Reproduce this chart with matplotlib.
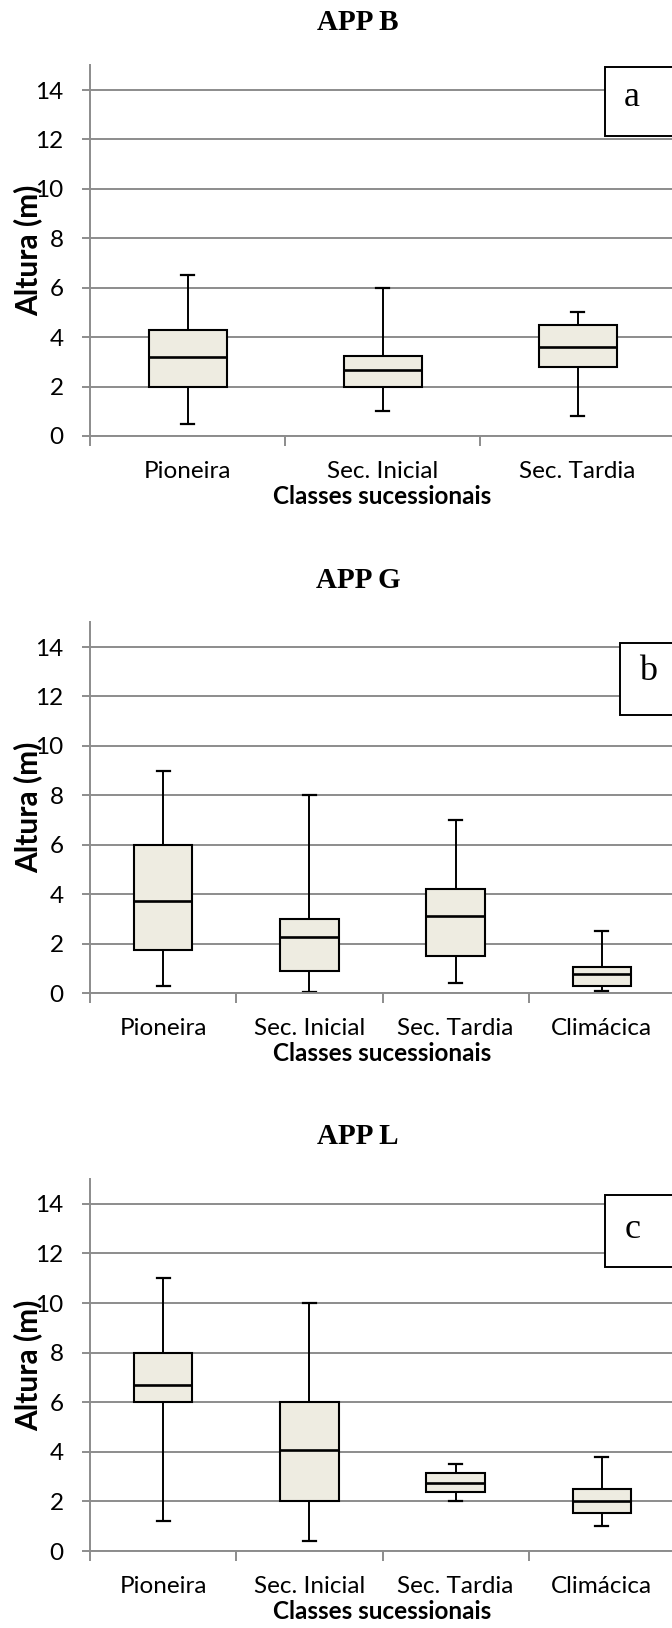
import matplotlib
matplotlib.use("Agg")
import matplotlib.pyplot as plt
from matplotlib.patches import Rectangle

# ---------------- data ----------------
cats_b = ['Pioneira', 'Sec. Inicial', 'Sec. Tardia']
cats_gl = ['Pioneira', 'Sec. Inicial', 'Sec. Tardia', 'Climácica']

b_whislo = [0.5, 1.0, 0.8]
b_q1 = [2.0, 2.0, 2.8]
b_med = [3.2, 2.67, 3.6]
b_q3 = [4.3, 3.25, 4.5]
b_whishi = [6.5, 6.0, 5.0]

g_whislo = [0.3, 0.05, 0.4, 0.1]
g_q1 = [1.73, 0.9, 1.5, 0.3]
g_med = [3.74, 2.28, 3.1, 0.76]
g_q3 = [6.0, 3.0, 4.2, 1.04]
g_whishi = [9.0, 8.0, 7.0, 2.5]

l_whislo = [1.2, 0.4, 2.0, 1.0]
l_q1 = [6.0, 2.0, 2.38, 1.54]
l_med = [6.69, 4.07, 2.76, 2.02]
l_q3 = [8.0, 6.0, 3.13, 2.5]
l_whishi = [11.0, 10.0, 3.5, 3.8]

titles = ['APP B', 'APP G', 'APP L']
panel_letters = ['a', 'b', 'c']
yticks = [0, 2, 4, 6, 8, 10, 12, 14]
ylabel = 'Altura (m)'
xlabel = 'Classes sucessionais'

# ---------------- figure ----------------
W, H = 672, 1628
fig = plt.figure(figsize=(W / 100, H / 100), dpi=100)

def fx(px):
    return px / W

def fy(py):
    return 1 - py / H

GRID = '#8C8C8C'
FACE = '#EEECE1'
SANS = ['Lato', 'DejaVu Sans']
SERIF = ['Liberation Serif', 'DejaVu Serif']

# axes geometry in pixels: (left, top, right, bottom)
geoms = [(90, 65.3, 675, 436), (90, 622.3, 675, 993), (90, 1179, 675, 1551)]
title_y = [22, 580, 1137]
boxes = [(605, 67, 136), (620, 643, 715), (605, 1195, 1267)]
letter_pos = [(632, 98), (648, 672), (633, 1229)]

datasets = [
    (cats_b, b_whislo, b_q1, b_med, b_q3, b_whishi),
    (cats_gl, g_whislo, g_q1, g_med, g_q3, g_whishi),
    (cats_gl, l_whislo, l_q1, l_med, l_q3, l_whishi),
]

for i, (cats, wlo, q1, med, q3, whi) in enumerate(datasets):
    l, t, r, b = geoms[i]
    ax = fig.add_axes([fx(l), fy(b), fx(r - l), (b - t) / H])
    n = len(cats)
    pos = list(range(1, n + 1))
    stats = []
    for k in range(n):
        stats.append(dict(med=med[k], q1=q1[k], q3=q3[k],
                          whislo=wlo[k], whishi=whi[k], fliers=[]))
    spacing_px = (r - l) / n
    capw = 13 / spacing_px
    ax.bxp(stats, positions=pos, widths=0.4, capwidths=capw,
           patch_artist=True, showfliers=False,
           boxprops=dict(facecolor=FACE, edgecolor='black', linewidth=1.5),
           medianprops=dict(color='black', linewidth=1.9),
           whiskerprops=dict(color='black', linewidth=1.4),
           capprops=dict(color='black', linewidth=1.6))
    ax.set_xlim(0.5, n + 0.5)
    ax.set_ylim(0, 15)
    ax.set_yticks(yticks)
    ax.yaxis.grid(True, color=GRID, linewidth=1.4)
    ax.set_axisbelow(True)
    for s in ['top', 'right']:
        ax.spines[s].set_visible(False)
    for s in ['left', 'bottom']:
        ax.spines[s].set_color(GRID)
        ax.spines[s].set_linewidth(1.4)
    ax.set_xticks(pos)
    ax.set_xticklabels(cats, fontsize=17.5, family=SANS)
    ax.set_xticks([p - 0.5 for p in pos] + [n + 0.5], minor=True)
    ax.tick_params(axis='x', which='major', length=0, pad=18)
    ax.tick_params(axis='x', which='minor', length=7, width=1.4, color=GRID, direction='out')
    ax.tick_params(axis='y', length=6, width=1.4, color=GRID, pad=13)
    for lab in ax.get_yticklabels():
        lab.set_fontsize(17.5)
        lab.set_family(SANS)
    ax.set_xlabel(xlabel, fontsize=17.5, fontweight='bold', family=SANS, labelpad=2)
    ax.set_ylabel(ylabel, fontsize=21.5, fontweight='bold', family=SANS)
    ax.yaxis.set_label_coords((42 - l) / (r - l), 0.5)

    fig.text(fx(358), fy(title_y[i]), titles[i], ha='center', va='center',
             fontsize=21, fontweight='bold', family=SERIF)

    bx, bt, bb = boxes[i]
    rect = Rectangle((fx(bx), fy(bb)), 0.3, (bb - bt) / H, transform=fig.transFigure,
                     facecolor='white', edgecolor='black', linewidth=1.4, zorder=5)
    fig.add_artist(rect)
    lx, ly = letter_pos[i]
    fig.text(fx(lx), fy(ly), panel_letters[i], ha='center', va='center',
             fontsize=26, family=SERIF, zorder=6)

fig.savefig('out.png', dpi=100)
